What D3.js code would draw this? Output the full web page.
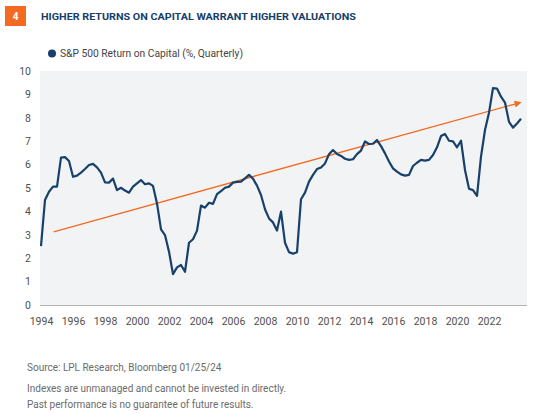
<!DOCTYPE html>
<html>
<head>
<meta charset="UTF-8" />
<script src="https://d3js.org/d3.v7.min.js"></script>
<style>
  body { margin: 0; background: #fff; }
  text { font-family: Roboto, "Liberation Sans", sans-serif; }
  .ytick, .xtick { fill: #505050; font-size: 10.5px; }
  .note { fill: #6b6b6b; font-size: 10px; }
</style>
</head>
<body>
<svg width="533" height="414"></svg>
<script>
// quarterly S&P 500 return on capital (1994 Q1 onward)
var startYear = 1994;
var roc = [
  2.52, 4.49, 4.84, 5.06, 5.06, 6.30, 6.32, 6.15, 5.48, 5.53, 5.66, 5.81,
  5.98, 6.03, 5.88, 5.66, 5.24, 5.23, 5.40, 4.91, 5.01, 4.89, 4.80, 5.06,
  5.20, 5.34, 5.16, 5.20, 5.09, 4.34, 3.23, 2.99, 2.28, 1.32, 1.61, 1.71,
  1.42, 2.66, 2.81, 3.18, 4.25, 4.16, 4.37, 4.32, 4.74, 4.87, 5.01, 5.06,
  5.23, 5.26, 5.27, 5.41, 5.56, 5.40, 5.10, 4.70, 4.09, 3.70, 3.53, 3.18,
  3.99, 2.66, 2.26, 2.19, 2.26, 4.52, 4.80, 5.27, 5.56, 5.81, 5.88, 6.05,
  6.44, 6.62, 6.45, 6.37, 6.25, 6.20, 6.23, 6.45, 6.60, 6.99, 6.88, 6.89,
  7.05, 6.79, 6.48, 6.13, 5.84, 5.70, 5.58, 5.53, 5.56, 5.94, 6.08, 6.20,
  6.17, 6.20, 6.41, 6.74, 7.22, 7.31, 7.02, 6.99, 6.74, 7.02, 5.77, 4.97,
  4.91, 4.66, 6.34, 7.48, 8.22, 9.27, 9.25, 8.90, 8.65, 7.83, 7.58, 7.76,
  7.96
];
// trend arrow end points [year, value]
var trend = [[1994.79, 3.13], [2023.95, 8.65]];
var yTicks = [0, 1, 2, 3, 4, 5, 6, 7, 8, 9, 10];
var xTicks = [1994, 1996, 1998, 2000, 2002, 2004, 2006, 2008, 2010, 2012,
              2014, 2016, 2018, 2020, 2022];

var svg = d3.select("svg");

var plotL = 40, plotR = 527, plotT = 71, plotB = 305;

var x = d3.scaleLinear().domain([1994, 2024.25]).range([41, 525]);
var y = d3.scaleLinear().domain([0, 10]).range([plotB, plotT]);

// header
svg.append("rect").attr("x", 5).attr("y", 6).attr("width", 21).attr("height", 20)
  .attr("fill", "#f26b21");
svg.append("text").attr("x", 15.5).attr("y", 20).attr("text-anchor", "middle")
  .attr("fill", "#fff").style("font-size", "10px").style("font-weight", "bold")
  .text("4");
svg.append("text").attr("x", 41).attr("y", 19.5)
  .attr("fill", "#173d6b").style("font-size", "9.6px").style("font-weight", "bold")
  .attr("textLength", 315).attr("lengthAdjust", "spacingAndGlyphs")
  .text("HIGHER RETURNS ON CAPITAL WARRANT HIGHER VALUATIONS");

// legend
svg.append("circle").attr("cx", 52).attr("cy", 53.5).attr("r", 4).attr("fill", "#173f6a");
svg.append("text").attr("x", 60).attr("y", 57).attr("fill", "#444")
  .style("font-size", "10.5px")
  .attr("textLength", 183).attr("lengthAdjust", "spacingAndGlyphs")
  .text("S&P 500 Return on Capital (%, Quarterly)");

// plot background
svg.append("rect").attr("x", plotL).attr("y", plotT)
  .attr("width", plotR - plotL).attr("height", plotB - plotT).attr("fill", "#f2f3f5");
svg.append("line").attr("x1", plotL).attr("x2", plotR).attr("y1", plotB + 0.5).attr("y2", plotB + 0.5)
  .attr("stroke", "#b3b3b3").attr("stroke-width", 1);

// y axis
var yAxis = svg.append("g").attr("transform", "translate(31,0)")
  .call(d3.axisLeft(y).tickValues(yTicks).tickSize(0).tickPadding(0));
yAxis.select(".domain").remove();
yAxis.selectAll("text").attr("class", "ytick").attr("fill", null);
yAxis.attr("font-family", null).attr("font-size", null);

// x axis
var xAxis = svg.append("g").attr("transform", "translate(0,318)")
  .call(d3.axisBottom(x).tickValues(xTicks).tickFormat(d3.format("d")).tickSize(0).tickPadding(0));
xAxis.select(".domain").remove();
xAxis.selectAll("text").attr("class", "xtick").attr("fill", null);
xAxis.attr("font-family", null).attr("font-size", null);

// trend arrow
svg.append("defs").append("marker").attr("id", "arrow")
  .attr("viewBox", "0 0 10 10").attr("refX", 8).attr("refY", 5)
  .attr("markerWidth", 7).attr("markerHeight", 7).attr("markerUnits", "userSpaceOnUse")
  .attr("orient", "auto")
  .append("path").attr("d", "M0,0L10,5L0,10z").attr("fill", "#f26b21");
svg.append("path").datum(trend)
  .attr("d", d3.line().x(d => x(d[0])).y(d => y(d[1])))
  .attr("fill", "none").attr("stroke", "#f26b21").attr("stroke-width", 1.3)
  .attr("marker-end", "url(#arrow)");

// main series
svg.append("path").datum(roc)
  .attr("d", d3.line().x((d, i) => x(startYear + i * 0.25)).y(d => y(d)))
  .attr("fill", "none").attr("stroke", "#17406b").attr("stroke-width", 2.2)
  .attr("stroke-linejoin", "round");

// footer notes
var notes = [
  "Source: LPL Research, Bloomberg  01/25/24",
  "Indexes are unmanaged and cannot be invested in directly.",
  "Past performance is no guarantee of future results."
];
var noteY = [371, 392, 408];
svg.selectAll("text.note").data(notes).enter().append("text")
  .attr("class", "note").attr("x", 27).attr("y", (d, i) => noteY[i]).text(d => d);
</script>
</body>
</html>
